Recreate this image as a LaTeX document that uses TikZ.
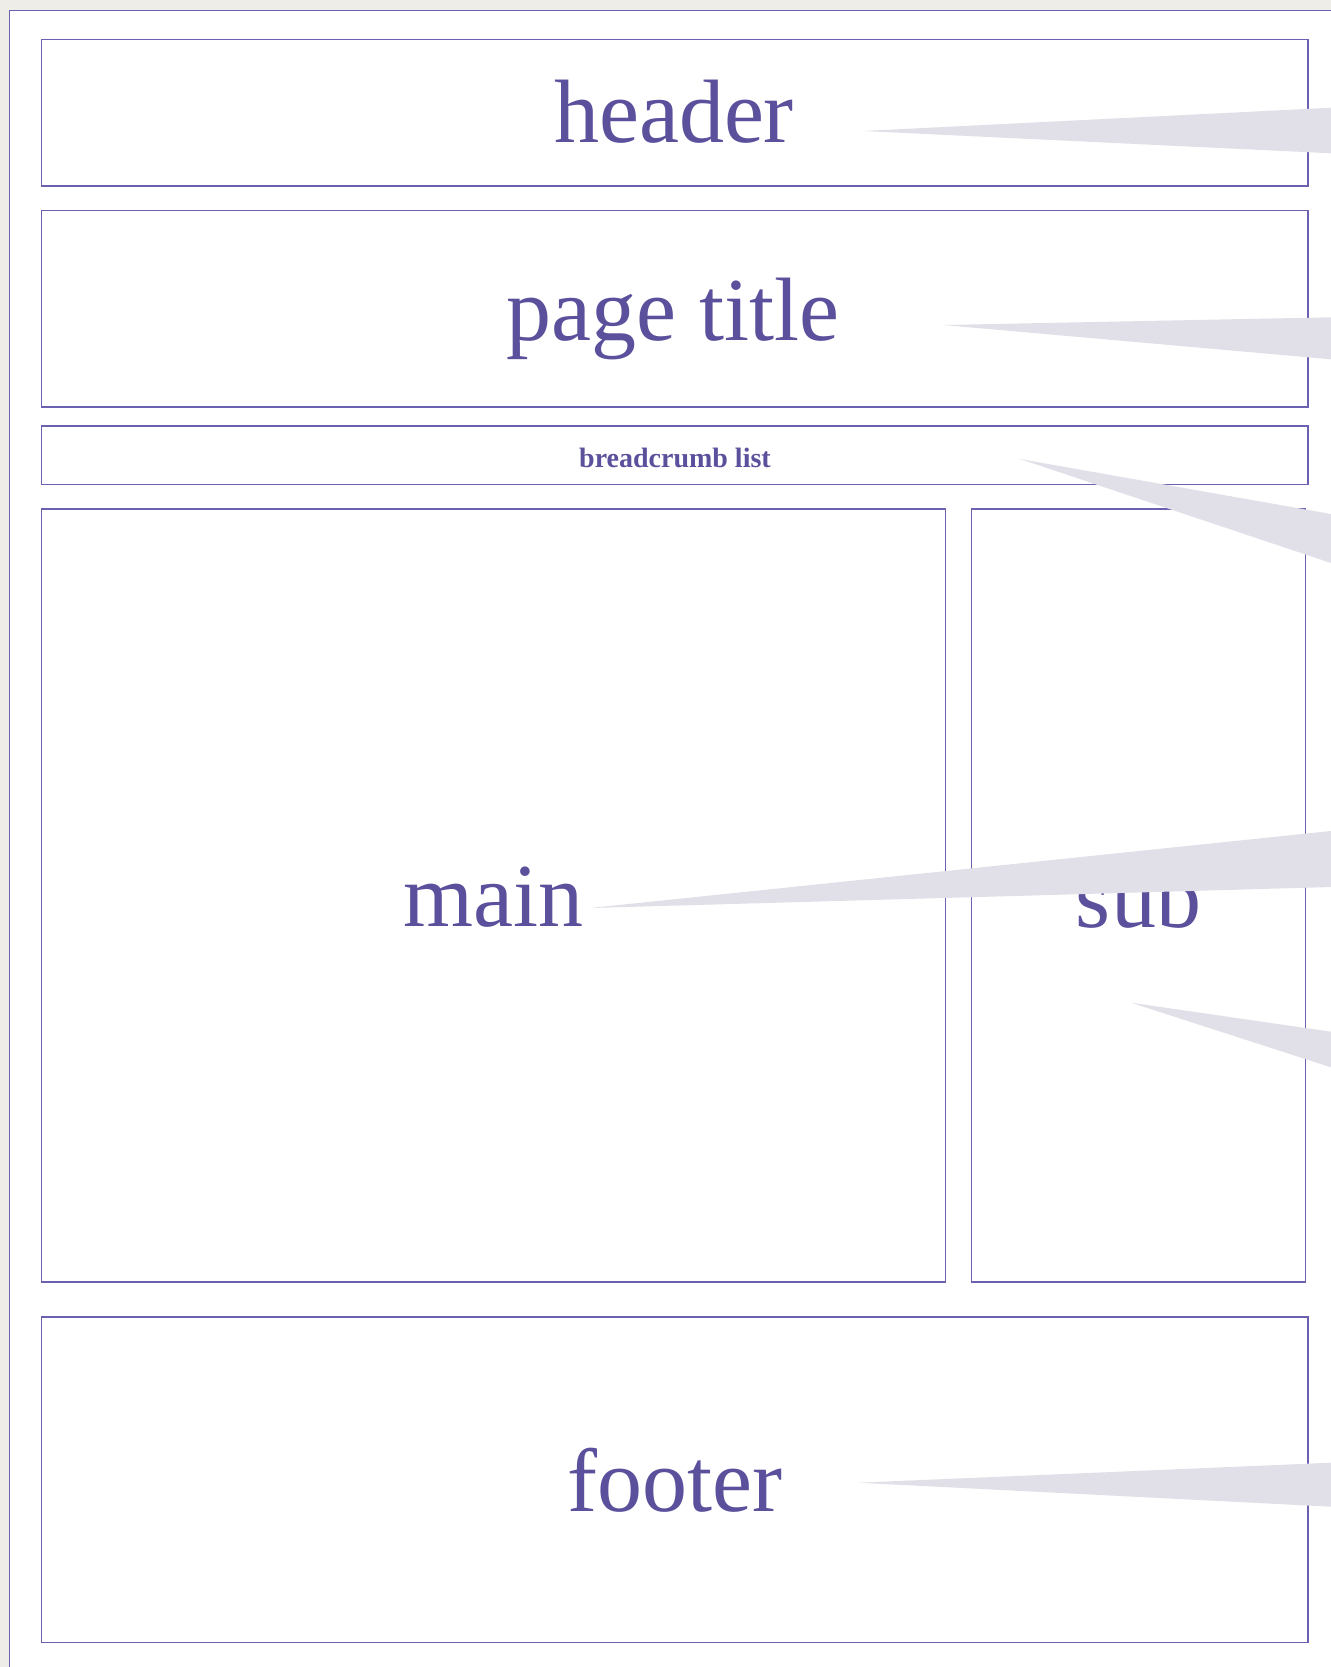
\documentclass[tikz,border=0pt]{standalone}
\usepackage{fontspec}
\setmainfont{Liberation Serif}
\definecolor{wirepurple}{HTML}{6A61B1}
\definecolor{labelpurple}{HTML}{5A509C}
\definecolor{pointergray}{HTML}{E1E0E9}
\definecolor{deskbeige}{HTML}{EFEDE7}
\tikzset{
  area/.style={draw=wirepurple, line width=0.65pt},
  biglabel/.style={text=labelpurple, anchor=base, inner sep=0pt, font=\fontsize{45}{53}\selectfont},
  smalllabel/.style={text=labelpurple, anchor=base, inner sep=0pt, font=\fontsize{14}{17}\selectfont\bfseries},
  pointer/.style={fill=pointergray, draw=none},
}
\begin{document}
\begin{tikzpicture}[x=0.5pt,y=-0.5pt]
            \useasboundingbox (0,0) rectangle (1331,1667);
            \clip (0,0) rectangle (1331,1667);
            % desk
            \path[fill=deskbeige] (0,0) rectangle (1331,1667);
            % page
            \path[draw=wirepurple, line width=0.75pt, fill=white] (9.5,10.3) rectangle (1345,1680);

            % header
            \path[area] (41.5,39.5) rectangle (1308,186);
            \node[biglabel] (header) at (674,142.7) {header};

            % page title
            \path[area] (41.5,210.5) rectangle (1308,407);
            \node[biglabel] (title) at (673,340) {page title};

            % breadcrumb
            \path[area] (41.5,426) rectangle (1308,484.5);
            \node[smalllabel] (crumb) at (675,467) {breadcrumb list};

            % main and sub
            \path[area] (41.5,509) rectangle (945.5,1282);
            \node[biglabel] (main) at (493.5,926.5) {main};
            \path[area] (971.5,509) rectangle (1305.7,1282);
            \node[biglabel] (sub) at (1138.5,927) {sub};

            % footer
            \path[area] (41.5,1317) rectangle (1308,1642.3);
            \node[biglabel] (footer) at (675,1511.7) {footer};

            % pointers from the right
            \path[pointer] (863,131) -- (1331,107.7) -- (1331,153.3) -- cycle;
            \path[pointer] (943.3,325) -- (1331,317.3) -- (1331,359.3) -- cycle;
            \path[pointer] (1020,459) -- (1331,514) -- (1331,563) -- cycle;
            \path[pointer] (590,908) -- (1331,831) -- (1331,887) -- cycle;
            \path[pointer] (1131,1002.7) -- (1331,1031.7) -- (1331,1067.3) -- cycle;
            \path[pointer] (858.3,1482.7) -- (1331,1462.7) -- (1331,1506.7) -- cycle;
\end{tikzpicture}
\end{document}
